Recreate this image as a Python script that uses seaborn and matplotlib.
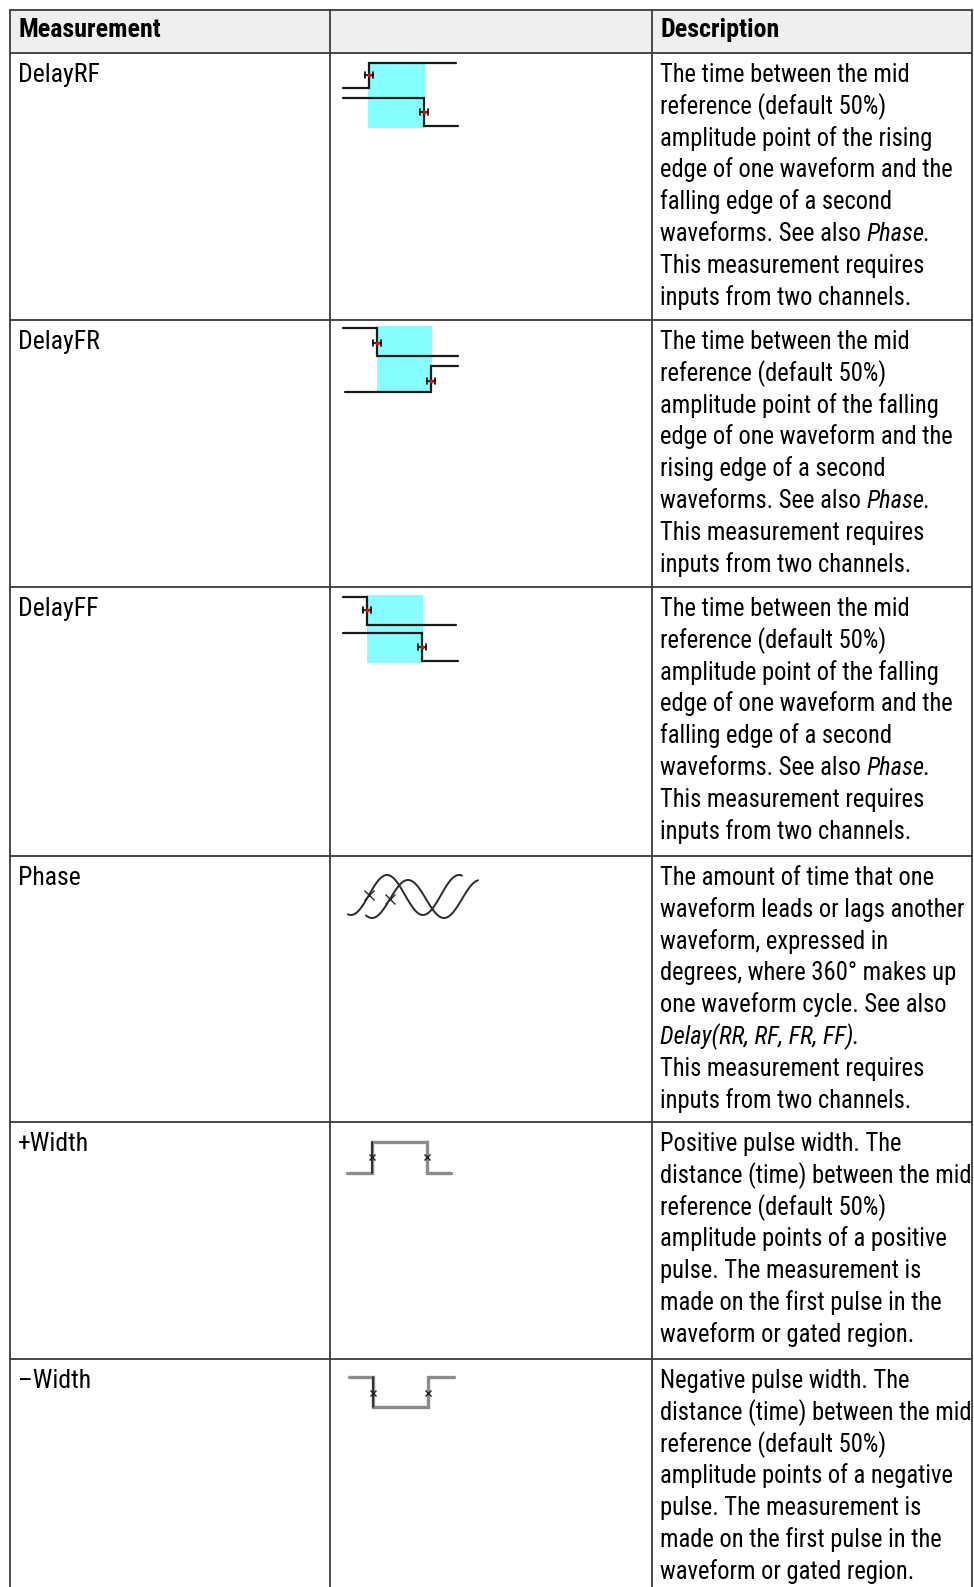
import numpy as np
import matplotlib.pyplot as plt
import seaborn as sns
from matplotlib.patches import Rectangle
from matplotlib import font_manager as fm

# table content (text between * * is italic)
headers = ['Measurement', '', 'Description']
measurements = ['DelayRF', 'DelayFR', 'DelayFF', 'Phase', '+Width', '–Width']
desc_rf = ['The time between the mid', 'reference (default 50%)',
           'amplitude point of the rising', 'edge of one waveform and the',
           'falling edge of a second', 'waveforms. See also *Phase*.',
           'This measurement requires', 'inputs from two channels.']
desc_fr = ['The time between the mid', 'reference (default 50%)',
           'amplitude point of the falling', 'edge of one waveform and the',
           'rising edge of a second', 'waveforms. See also *Phase*.',
           'This measurement requires', 'inputs from two channels.']
desc_ff = ['The time between the mid', 'reference (default 50%)',
           'amplitude point of the falling', 'edge of one waveform and the',
           'falling edge of a second', 'waveforms. See also *Phase*.',
           'This measurement requires', 'inputs from two channels.']
desc_phase = ['The amount of time that one', 'waveform leads or lags another',
              'waveform, expressed in', 'degrees, where 360° makes up',
              'one waveform cycle. See also', '*Delay(RR, RF, FR, FF)*.',
              'This measurement requires', 'inputs from two channels.']
desc_pw = ['Positive pulse width. The', 'distance (time) between the mid',
           'reference (default 50%)', 'amplitude points of a positive',
           'pulse. The measurement is', 'made on the first pulse in the',
           'waveform or gated region.']
desc_nw = ['Negative pulse width. The', 'distance (time) between the mid',
           'reference (default 50%)', 'amplitude points of a negative',
           'pulse. The measurement is', 'made on the first pulse in the',
           'waveform or gated region.']
descriptions = [desc_rf, desc_fr, desc_ff, desc_phase, desc_pw, desc_nw]

# layout in pixels
col_edges = [10, 330, 652, 972]
header_top, header_bot = 10, 53
row_tops = [53, 320, 587, 856, 1122, 1359]
bottom = 1600
line_gap = 31.8
first_base = 29
border = '#3a3a3a'

# pick a narrow sans face (the source uses Arial Narrow)
styles = {}
for f in fm.fontManager.ttflist:
    styles.setdefault(f.name, set()).add(f.style)
candidates = ['Liberation Sans Narrow', 'Arial Narrow', 'Roboto Condensed',
              'Archivo Narrow', 'PT Sans Narrow', 'Fira Sans Condensed',
              'IBM Plex Sans Condensed', 'Encode Sans Condensed',
              'Sofia Sans Condensed', 'Barlow Semi Condensed', 'Liberation Sans']
narrow = next(c for c in candidates if c in styles and 'italic' in styles[c])

sns.set_theme(style='white')
plt.rcParams['font.family'] = [narrow, 'DejaVu Sans']

fig = plt.figure(figsize=(9.74, 15.87), dpi=100)
ax = fig.add_axes([0, 0, 1, 1])
ax.set_xlim(0, 974)
ax.set_ylim(1587, 0)
ax.axis('off')
renderer = fig.canvas.get_renderer()


def text_width(s, size, **kw):
    t = ax.text(0, 0, s + '|', fontsize=size, **kw)
    r = ax.text(0, 0, '|', fontsize=size, **kw)
    w = t.get_window_extent(renderer).width - r.get_window_extent(renderer).width
    t.remove()
    r.remove()
    return w


# size the font so a long line has the width it has in the source
fs = 18 * 305 / text_width('waveform leads or lags another', 18)
fs = min(max(fs, 14), 22)


def put_line(x, y, line):
    parts = line.split('*')
    for i, part in enumerate(parts):
        if not part:
            continue
        style = 'italic' if i % 2 else 'normal'
        ax.text(x, y, part, fontsize=fs, style=style, va='baseline', ha='left',
                color='black')
        x += text_width(part, fs, style=style) - (2 if style == 'italic' else 0)


# header band and grid
ax.add_patch(Rectangle((col_edges[0], header_top), col_edges[-1] - col_edges[0],
                       header_bot - header_top, facecolor='#efefef', edgecolor='none'))
for yy in [header_top, header_bot] + row_tops[1:]:
    ax.plot([col_edges[0], col_edges[-1]], [yy, yy], color=border, lw=1.3)
for xx in col_edges:
    ax.plot([xx, xx], [header_top, bottom], color=border, lw=1.3)

for xx, h in zip([18, 338, 660], headers):
    if h:
        ax.text(xx, 37, h, fontsize=fs * 1.06, fontweight='bold', va='baseline',
                ha='left', color='black')

for top, name, lines in zip(row_tops, measurements, descriptions):
    ax.text(18, top + first_base, name, fontsize=fs * 1.05, va='baseline', ha='left',
            color='black')
    for k, line in enumerate(lines):
        put_line(660, top + first_base + k * line_gap, line)


# ---- icons ----
def ibeam(x, y):
    ax.plot([x - 4, x + 4], [y, y], color='black', lw=1.2)
    ax.plot([x - 4, x - 4], [y - 3, y + 3], color='black', lw=1.2)
    ax.plot([x + 4, x + 4], [y - 3, y + 3], color='black', lw=1.2)
    ax.plot([x], [y], marker='o', ms=2, color='#d01010')


def step(xs, ys, color='#1a1a1a', lw=1.6):
    ax.plot(xs, ys, color=color, lw=lw, solid_joinstyle='miter')


# DelayRF
ax.add_patch(Rectangle((368, 63), 57, 65, facecolor='#88ffff', edgecolor='none'))
step([343, 369, 369, 456], [88, 88, 63, 63])
step([343, 424, 424, 458], [98, 98, 126, 126])
ibeam(369, 75)
ibeam(424, 112)

# DelayFR
ax.add_patch(Rectangle((377, 326), 55, 66, facecolor='#88ffff', edgecolor='none'))
step([343, 377, 377, 458], [328, 328, 356, 356])
step([345, 431, 431, 458], [392, 392, 366, 366])
ibeam(377, 343)
ibeam(431, 381)

# DelayFF
ax.add_patch(Rectangle((367, 595), 56, 68, facecolor='#88ffff', edgecolor='none'))
step([343, 367, 367, 456], [597, 597, 625, 625])
step([343, 422, 422, 458], [633, 633, 661, 661])
ibeam(367, 610)
ibeam(422, 647)

# Phase: two offset sine waves
xa = np.linspace(348, 462, 120)
xb = np.linspace(366, 478, 120)
ya = 895 - 20 * np.sin(2 * np.pi * (xa - 369) / 72)
yb = 899 - 19 * np.sin(2 * np.pi * (xb - 390) / 72)
sns.lineplot(x=xa, y=ya, sort=False, estimator=None, color='#2a2a2a', lw=1.4, ax=ax)
sns.lineplot(x=xb, y=yb, sort=False, estimator=None, color='#2a2a2a', lw=1.4, ax=ax)
ax.plot([369, 390], [895, 899], ls='none', marker='x', ms=7, mew=1.0, color='#2a2a2a')

# +Width
step([347, 372, 372, 427, 427, 451], [1173, 1173, 1142, 1142, 1173, 1173], color='#8c8c8c', lw=2.4)
step([372, 372], [1173, 1142], color='#202020', lw=1.2)
ax.plot([372, 427], [1157, 1157], ls='none', marker='x', ms=5, mew=1.0, color='#202020')

# -Width
step([349, 373, 373, 428, 428, 454], [1377, 1377, 1407, 1407, 1377, 1377], color='#8c8c8c', lw=2.4)
step([373, 373], [1377, 1407], color='#202020', lw=1.2)
ax.plot([373, 428], [1393, 1393], ls='none', marker='x', ms=5, mew=1.0, color='#202020')

fig.savefig('out.png', dpi=100, facecolor='white')
